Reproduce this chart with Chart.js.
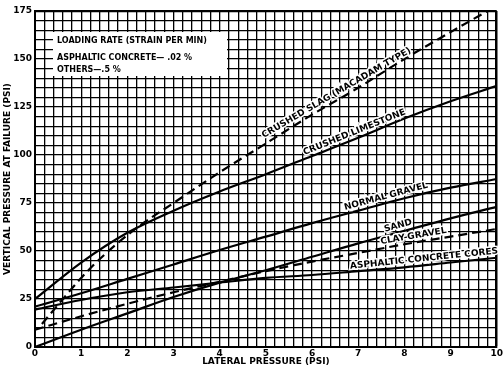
<!DOCTYPE html>
<html>
<head>
<meta charset="utf-8">
<script src="https://cdn.jsdelivr.net/npm/chart.js@4.4.1/dist/chart.umd.min.js"></script>
<style>
  html, body { margin: 0; padding: 0; background: #fff; }
  #wrap { width: 504px; height: 368px; }
</style>
</head>
<body>
<div id="wrap"><canvas id="failureChart" width="504" height="368"></canvas></div>
<script>
// lateral pressure (psi) where most curves were read
let lateralPsi = [0, 1, 2, 3, 4, 5, 6, 7, 8, 9, 10];

// vertical pressure at failure (psi) for each material
let limestone = [25, 44, 59.5, 71, 81, 90, 99.5, 109, 119, 128, 136];
let normalGravel = [21, 28, 35.5, 43, 50.5, 57.5, 64.5, 71, 77.5, 83, 87.5];
let sand = [0, 9, 17.5, 26, 33.5, 40, 47, 54, 60.5, 67, 73];
let clayGravel = [9, 16, 22.5, 28.5, 34, 39.5, 44.5, 49, 53.5, 57.5, 61.5];
let asphaltCores = [19.5, 24.5, 28.5, 31, 33.5, 36, 37.5, 39.5, 41.5, 44, 46.5];

// crushed slag starts a bit off the axis and runs to the top
let slagPsi = [0.15, 0.5, 1, 1.5, 2.2, 3, 4, 5, 6, 7, 8, 9, 9.8];
let slag = [12, 22, 36, 48, 62, 75, 91, 106, 121, 135, 150, 164, 175];

// curve names written along the lines, and where along x they sit
let curveNames = ["CRUSHED SLAG (MACADAM TYPE)", "CRUSHED LIMESTONE", "NORMAL GRAVEL",
                  "SAND", "CLAY-GRAVEL", "ASPHALTIC CONCRETE CORES"];
let nameAtPsi = [6.6, 6.97, 7.64, 7.9, 8.22, 8.44];

// legend box text
let noteLines = ["LOADING RATE (STRAIN PER MIN)", "ASPHALTIC CONCRETE\u2014 .02 %", "OTHERS\u2014.5 %"];

let fontFamily = "'DejaVu Sans', sans-serif";

function toPoints(xs, ys) {
  let pts = [];
  for (let i = 0; i < xs.length; i++) {
    pts.push({ x: xs[i], y: ys[i] });
  }
  return pts;
}

// straight-line lookup along a curve's points
function valueAt(pts, x) {
  if (x <= pts[0].x) return pts[0].y;
  for (let i = 1; i < pts.length; i++) {
    if (x <= pts[i].x) {
      let t = (x - pts[i - 1].x) / (pts[i].x - pts[i - 1].x);
      return pts[i - 1].y + t * (pts[i].y - pts[i - 1].y);
    }
  }
  return pts[pts.length - 1].y;
}

function makeLine(pts, dashed) {
  return {
    data: pts,
    showLine: true,
    borderColor: "#000",
    borderWidth: 2.2,
    borderDash: dashed ? [9, 5] : [],
    pointRadius: 0,
    cubicInterpolationMode: "monotone",
    fill: false
  };
}

// writes the material names along their curves
let curveNamesPlugin = {
  id: "curveNames",
  afterDatasetsDraw(chart) {
    let ctx = chart.ctx;
    let xs = chart.scales.x;
    let ys = chart.scales.y;
    ctx.save();
    ctx.font = "bold 9px " + fontFamily;
    ctx.textAlign = "center";
    ctx.textBaseline = "bottom";
    chart.data.datasets.forEach(function (ds, i) {
      let x = nameAtPsi[i];
      let ax = xs.getPixelForValue(x - 0.3), ay = ys.getPixelForValue(valueAt(ds.data, x - 0.3));
      let bx = xs.getPixelForValue(x + 0.3), by = ys.getPixelForValue(valueAt(ds.data, x + 0.3));
      let cx = xs.getPixelForValue(x), cy = ys.getPixelForValue(valueAt(ds.data, x));
      ctx.save();
      ctx.translate(cx, cy);
      ctx.rotate(Math.atan2(by - ay, bx - ax));
      ctx.lineWidth = 3;
      ctx.strokeStyle = "#fff";
      ctx.strokeText(curveNames[i], 0, -2);
      ctx.fillStyle = "#000";
      ctx.fillText(curveNames[i], 0, -2);
      ctx.restore();
    });
    ctx.restore();
  }
};

// white box with the loading rate note
let noteBoxPlugin = {
  id: "noteBox",
  beforeDatasetsDraw(chart) {
    let ctx = chart.ctx;
    let area = chart.chartArea;
    let left = area.left + 18, top = area.top + 21;
    ctx.save();
    ctx.fillStyle = "#fff";
    ctx.fillRect(left, top, 174, 44);
    ctx.fillStyle = "#000";
    ctx.font = "bold 8px " + fontFamily;
    ctx.textBaseline = "middle";
    ctx.fillText(noteLines[0], left + 4, top + 9);
    ctx.fillText(noteLines[1], left + 4, top + 26);
    ctx.fillText(noteLines[2], left + 4, top + 38);
    ctx.restore();
  }
};

let ctx = document.getElementById("failureChart").getContext("2d");

let chart = new Chart(ctx, {
  type: "scatter",
  data: {
    datasets: [
      makeLine(toPoints(slagPsi, slag), true),
      makeLine(toPoints(lateralPsi, limestone), false),
      makeLine(toPoints(lateralPsi, normalGravel), false),
      makeLine(toPoints(lateralPsi, sand), false),
      makeLine(toPoints(lateralPsi, clayGravel), true),
      makeLine(toPoints(lateralPsi, asphaltCores), false)
    ]
  },
  options: {
    responsive: false,
    animation: false,
    layout: { padding: { top: 11, right: 7, left: 0, bottom: 0 } },
    plugins: {
      legend: { display: false },
      tooltip: { enabled: false }
    },
    scales: {
      x: {
        type: "linear",
        min: 0,
        max: 10,
        afterFit: function (scale) { scale.height = 21; },
        grid: {
          color: "#000",
          lineWidth: function (c) { return c.tick && c.tick.value === 10 ? 2.5 : 1.3; },
          drawTicks: false
        },
        border: { color: "#000", width: 2 },
        ticks: {
          stepSize: 0.2,
          autoSkip: false,
          maxRotation: 0,
          padding: 1,
          color: "#000",
          font: { family: fontFamily, size: 9, weight: "bold" },
          callback: function (v) {
            return Math.abs(v - Math.round(v)) < 1e-6 ? String(Math.round(v)) : "";
          }
        },
        title: {
          display: true,
          text: "LATERAL PRESSURE (PSI)",
          color: "#000",
          padding: { top: 0, bottom: 1 },
          font: { family: fontFamily, size: 9, weight: "bold" }
        }
      },
      y: {
        type: "linear",
        min: 0,
        max: 175,
        afterFit: function (scale) { scale.width = 35; },
        grid: {
          color: "#000",
          lineWidth: function (c) { return c.tick && c.tick.value === 175 ? 2.2 : 1.3; },
          drawTicks: false
        },
        border: { color: "#000", width: 2 },
        ticks: {
          stepSize: 5,
          autoSkip: false,
          padding: 3,
          color: "#000",
          font: { family: fontFamily, size: 9, weight: "bold" },
          callback: function (v) { return v % 25 === 0 ? String(v) : ""; }
        },
        title: {
          display: true,
          text: "VERTICAL PRESSURE AT FAILURE (PSI)",
          color: "#000",
          padding: { top: 2, bottom: 0 },
          font: { family: fontFamily, size: 9, weight: "bold" }
        }
      }
    }
  },
  plugins: [noteBoxPlugin, curveNamesPlugin]
});
</script>
</body>
</html>
